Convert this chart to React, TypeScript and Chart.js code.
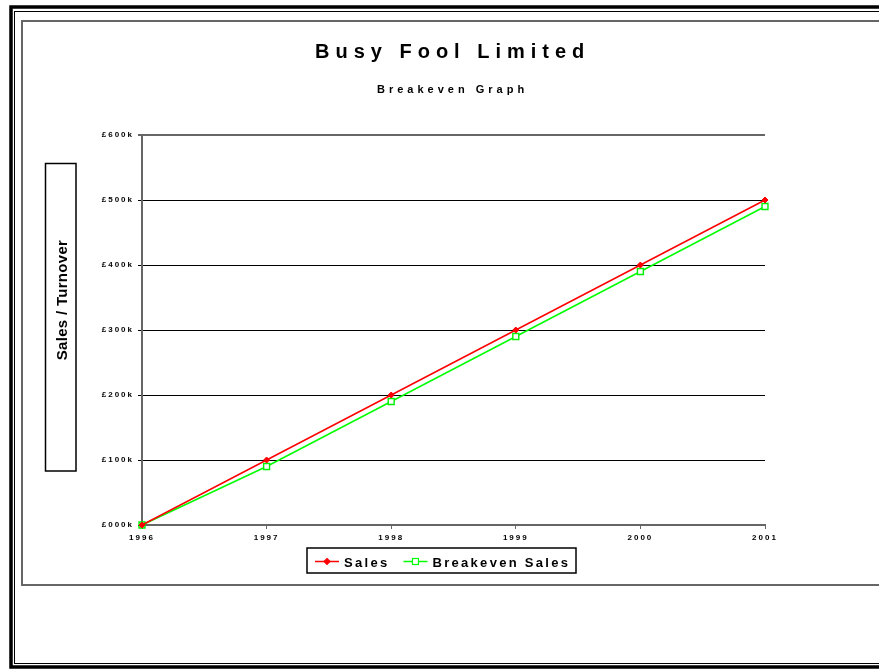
import React, { useEffect, useRef } from 'react';
import { Chart, registerables } from 'chart.js';

Chart.register(...registerables);

const years = ['1996', '1997', '1998', '1999', '2000', '2001'];
const sales = [0, 100000, 200000, 300000, 400000, 500000];
const breakevenSales = [0, 90000, 190000, 290000, 390000, 490000];
const seriesNames = ['Sales', 'Breakeven Sales'];
const yMin = 0;
const yMax = 600000;
const yStep = 100000;
const chartTitle = 'Busy Fool Limited';
const chartSubtitle = 'Breakeven Graph';
const yAxisTitle = 'Sales / Turnover';

const FONT = '"Liberation Sans", Arial, Helvetica, sans-serif';
const GREY = '#666666';

function fmtMoney(v: number): string {
  return '£' + String(Math.round(v / 1000)).padStart(3, '0') + 'k';
}

const bgPlugin = {
  id: 'bgFrames',
  beforeDraw(chart: any) {
    const ctx = chart.ctx as CanvasRenderingContext2D;
    const W = chart.width;
    ctx.save();
    ctx.fillStyle = '#ffffff';
    ctx.fillRect(0, 0, W, chart.height);
    // outer thick black frame
    ctx.strokeStyle = '#000000';
    ctx.lineWidth = 3.5;
    ctx.strokeRect(11, 7, W + 40, 660);
    // thin inner black line
    ctx.lineWidth = 1;
    ctx.strokeRect(14.5, 11.5, W + 40, 652);
    // grey chart-area frame
    ctx.strokeStyle = GREY;
    ctx.lineWidth = 2;
    ctx.strokeRect(22, 21, W + 40, 564);
    ctx.restore();
    (ctx as any).letterSpacing = '2px';
  },
};

function drawSpaced(ctx: CanvasRenderingContext2D, text: string, x: number, y: number, spacing: number) {
  (ctx as any).letterSpacing = spacing + 'px';
  ctx.fillText(text, x, y);
  return ctx.measureText(text).width;
}

const overlayPlugin = {
  id: 'overlay',
  afterDraw(chart: any) {
    const ctx = chart.ctx as CanvasRenderingContext2D;
    ctx.save();
    ctx.fillStyle = '#000000';
    ctx.textBaseline = 'alphabetic';
    ctx.textAlign = 'left';

    // Title
    ctx.font = `bold 20px ${FONT}`;
    drawSpaced(ctx, chartTitle, 315, 58, 6);

    // Subtitle
    ctx.font = `bold 11px ${FONT}`;
    drawSpaced(ctx, chartSubtitle, 377, 93, 4);

    // Y axis title box
    ctx.strokeStyle = '#000000';
    ctx.lineWidth = 1.5;
    ctx.strokeRect(45.5, 163.5, 30.5, 307.5);
    ctx.save();
    ctx.translate(67, 300);
    ctx.rotate(-Math.PI / 2);
    ctx.font = `bold 15px ${FONT}`;
    (ctx as any).letterSpacing = '0.3px';
    ctx.textAlign = 'center';
    ctx.fillText(yAxisTitle, 0, 0);
    ctx.restore();

    // Legend
    ctx.strokeStyle = '#000000';
    ctx.lineWidth = 1.5;
    ctx.strokeRect(307, 548, 269, 25);
    ctx.font = `bold 13px ${FONT}`;
    let x = 315;
    const ly = 561.5;
    chart.data.datasets.forEach((ds: any) => {
      ctx.strokeStyle = ds.borderColor;
      ctx.lineWidth = 1.5;
      ctx.beginPath();
      ctx.moveTo(x, ly);
      ctx.lineTo(x + 24, ly);
      ctx.stroke();
      const cx = x + 12;
      ctx.lineWidth = 1.2;
      if (ds.pointStyle === 'rectRot') {
        const r = 3;
        ctx.fillStyle = ds.pointBackgroundColor;
        ctx.beginPath();
        ctx.moveTo(cx, ly - r);
        ctx.lineTo(cx + r, ly);
        ctx.lineTo(cx, ly + r);
        ctx.lineTo(cx - r, ly);
        ctx.closePath();
        ctx.fill();
        ctx.stroke();
      } else {
        ctx.fillStyle = ds.pointBackgroundColor;
        ctx.fillRect(cx - 3, ly - 3, 6, 6);
        ctx.strokeRect(cx - 3, ly - 3, 6, 6);
      }
      ctx.fillStyle = '#000000';
      const w = drawSpaced(ctx, ds.label, x + 29, 567, 2.3);
      x = x + 29 + w + 14;
    });
    ctx.restore();
  },
};

export default function App() {
  const ref = useRef<HTMLCanvasElement>(null);
  useEffect(() => {
    const canvas = ref.current;
    if (!canvas) return;
    const tickFont = { family: FONT, size: 8, weight: 'bold' as const };
    const chart = new Chart(canvas, {
      type: 'line',
      data: {
        labels: years,
        datasets: [
          {
            label: seriesNames[0],
            data: sales,
            borderColor: '#ff0000',
            backgroundColor: '#ff0000',
            borderWidth: 1.5,
            pointStyle: 'rectRot',
            pointRadius: 3,
            pointBackgroundColor: '#ff0000',
            pointBorderColor: '#ff0000',
            pointBorderWidth: 1,
            tension: 0,
            clip: false,
          } as any,
          {
            label: seriesNames[1],
            data: breakevenSales,
            borderColor: '#00ff00',
            backgroundColor: '#ffffff',
            borderWidth: 1.5,
            pointStyle: 'rect',
            pointRadius: 4.2,
            pointBackgroundColor: '#ffffff',
            pointBorderColor: '#00ee00',
            pointBorderWidth: 1.4,
            tension: 0,
            clip: false,
          } as any,
        ],
      },
      options: {
        responsive: false,
        animation: false,
        events: [],
        layout: { padding: { left: 0, top: 135, right: 114, bottom: 114 } },
        plugins: {
          legend: { display: false },
          title: { display: false },
          tooltip: { enabled: false },
        },
        scales: {
          x: {
            grid: { drawOnChartArea: false, drawTicks: true, tickLength: 4, color: GREY, lineWidth: 1 },
            border: { display: true, color: GREY, width: 2 },
            ticks: { font: tickFont, color: '#000000', padding: 4, maxRotation: 0, autoSkip: false },
            afterFit: (s: any) => {
              s.height = 30;
            },
          },
          y: {
            min: yMin,
            max: yMax,
            ticks: {
              stepSize: yStep,
              font: tickFont,
              color: '#000000',
              padding: 4,
              callback: (v: any) => fmtMoney(Number(v)),
            },
            grid: {
              color: (c: any) => (c.tick && c.tick.value === yMax ? GREY : '#000000'),
              lineWidth: (c: any) => (c.tick && c.tick.value === yMax ? 2 : 1),
              tickLength: 4,
            },
            border: { display: true, color: GREY, width: 2 },
            afterFit: (s: any) => {
              s.width = 142;
            },
          },
        },
      },
      plugins: [bgPlugin, overlayPlugin],
    } as any);
    return () => chart.destroy();
  }, []);

  return (
    <div style={{ position: 'absolute', left: 0, top: 0, width: 879, height: 669 }}>
      <canvas ref={ref} width={879} height={669} style={{ display: 'block' }} />
    </div>
  );
}
